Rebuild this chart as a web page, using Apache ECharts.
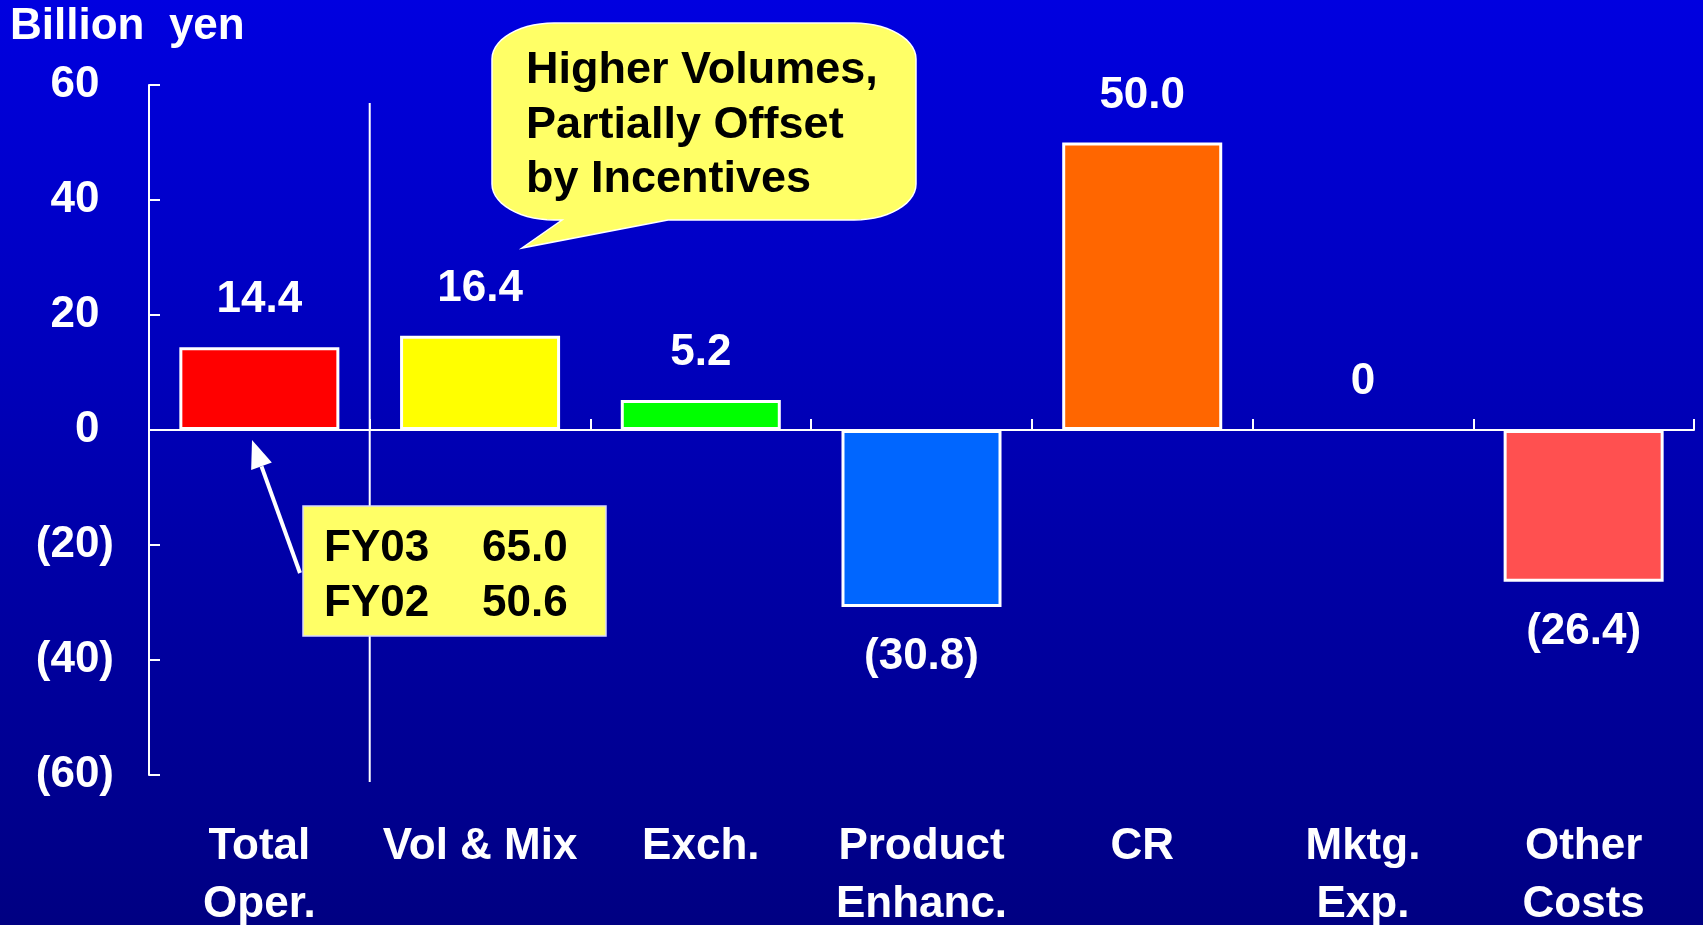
<!DOCTYPE html>
<html>
<head>
<meta charset="utf-8">
<script src="https://cdn.jsdelivr.net/npm/echarts@6/dist/echarts.min.js"></script>
<style>
  html, body { margin: 0; padding: 0; background: #0000a8; }
  #chart { width: 1703px; height: 925px; }
</style>
</head>
<body>
<div id="chart"></div>
<script>
// Operating income change factors (billion yen)
const categories = ['Total\nOper.', 'Vol & Mix', 'Exch.', 'Product\nEnhanc.', 'CR', 'Mktg.\nExp.', 'Other\nCosts'];
const values = [14.4, 16.4, 5.2, -30.8, 50.0, 0, -26.4];
const barColors = ['#FF0000', '#FFFF00', '#00FF00', '#0066FF', '#FF6600', 'rgba(0,0,0,0)', '#FF5050'];
const yMin = -60, yMax = 60, yStep = 20;
const unitLabel = 'Billion  yen';
const calloutLines = ['Higher Volumes,', 'Partially Offset', 'by Incentives'];
const fyRows = [['FY03', '65.0'], ['FY02', '50.6']];

const FONT = '"Liberation Sans", Arial, Helvetica, sans-serif';
const chart = echarts.init(document.getElementById('chart'), null, { renderer: 'canvas' });

function barLabel(v) {
  if (v === 0) return '0';
  return v < 0 ? '(' + (-v).toFixed(1) + ')' : v.toFixed(1);
}
function tickLabel(v) {
  return v < 0 ? '(' + (-v) + ')' : v + '{h|)}';
}

const option = {
  backgroundColor: {
    type: 'linear', x: 0, y: 0, x2: 0, y2: 1,
    colorStops: [{ offset: 0, color: '#0000E0' }, { offset: 1, color: '#000082' }]
  },
  animation: false,
  grid: { left: 149, right: 9, top: 85, bottom: 150, containLabel: false, outerBoundsMode: 'none' },
  xAxis: [
    {
      // category names along the bottom
      type: 'category', data: categories, position: 'bottom',
      axisLine: { show: false, onZero: false },
      axisTick: { show: false },
      axisLabel: {
        color: '#fff', fontFamily: FONT, fontWeight: 'bold', fontSize: 44,
        lineHeight: 58, margin: 43, interval: 0
      }
    },
    {
      // zero line with boundary ticks
      type: 'category', data: categories, position: 'bottom',
      axisLine: { show: true, onZero: true, lineStyle: { color: '#fff', width: 2 } },
      axisTick: { show: true, inside: true, length: 11, lineStyle: { color: '#fff', width: 2 } },
      axisLabel: { show: false }
    }
  ],
  yAxis: {
    type: 'value', min: yMin, max: yMax, interval: yStep,
    splitLine: { show: false },
    axisLine: { show: true, lineStyle: { color: '#fff', width: 2 } },
    axisTick: { show: true, inside: true, length: 11, lineStyle: { color: '#fff', width: 2 } },
    axisLabel: {
      color: '#fff', fontFamily: FONT, fontWeight: 'bold', fontSize: 44, margin: 35,
      formatter: tickLabel,
      rich: { h: { color: 'rgba(0,0,0,0)', fontFamily: FONT, fontWeight: 'bold', fontSize: 44 } }
    }
  },
  series: [{
    type: 'bar',
    xAxisIndex: 0,
    barWidth: '72.5%',
    data: values.map((v, i) => ({
      value: v,
      itemStyle: {
        color: barColors[i],
        borderColor: v === 0 ? 'rgba(0,0,0,0)' : '#FFFFFF',
        borderWidth: 3
      },
      label: { position: v < 0 ? 'bottom' : 'top', distance: v < 0 ? 28 : 25 }
    })),
    label: {
      show: true, color: '#fff', fontFamily: FONT, fontWeight: 'bold', fontSize: 44,
      formatter: p => barLabel(p.value)
    }
  }]
};
chart.setOption(option);

// Decorations: unit caption, separator, speech bubble and FY callout
const c0 = chart.convertToPixel({ xAxisIndex: 0 }, categories[0]);
const c1 = chart.convertToPixel({ xAxisIndex: 0 }, categories[1]);
const sepX = (c0 + c1) / 2;

// speech bubble outline: rounded box with elliptical corners and a tail
const L = 492, R = 916, T = 23, B = 220, rx = 62, ry = 36;
const tailA = 562, tailB = 668, tipX = 522, tipY = 248;
function corner(cx, cy, a0, a1, pts) {
  const n = 14;
  for (let k = 0; k <= n; k++) {
    const a = a0 + (a1 - a0) * k / n;
    pts.push([cx + rx * Math.cos(a), cy + ry * Math.sin(a)]);
  }
}
const bubblePts = [];
corner(R - rx, T + ry, -Math.PI / 2, 0, bubblePts);          // top-right
corner(R - rx, B - ry, 0, Math.PI / 2, bubblePts);           // bottom-right
bubblePts.push([tailB, B], [tipX, tipY], [tailA, B]);        // tail
corner(L + rx, B - ry, Math.PI / 2, Math.PI, bubblePts);     // bottom-left
corner(L + rx, T + ry, Math.PI, Math.PI * 1.5, bubblePts);   // top-left

// arrow from FY box toward the first bar
const ax0 = 300, ay0 = 573, ax1 = 252, ay1 = 440, headLen = 28, headHalf = 11;
const len = Math.hypot(ax1 - ax0, ay1 - ay0);
const ux = (ax1 - ax0) / len, uy = (ay1 - ay0) / len;
const bx = ax1 - headLen * ux, by = ay1 - headLen * uy;
const px = -uy, py = ux;

const textEl = (txt, x, y, color, size) => ({
  type: 'text', x: x, y: y, z: 30, silent: true,
  style: { text: txt, fill: color, font: 'bold ' + size + 'px ' + FONT, verticalAlign: 'middle' }
});

const graphics = [
  textEl(unitLabel, 10, 27, '#fff', 44),
  {
    type: 'line', z: 1, silent: true,
    shape: { x1: sepX, y1: 103, x2: sepX, y2: 782 },
    style: { stroke: '#fff', lineWidth: 2 }
  },
  {
    type: 'polygon', z: 20, silent: true,
    shape: { points: bubblePts },
    style: { fill: '#FFFF66', stroke: '#FFFFFF', lineWidth: 1.5 }
  },
  ...calloutLines.map((t, i) => textEl(t, 526, 71 + i * 54.5, '#000', 45)),
  {
    type: 'rect', z: 20, silent: true,
    shape: { x: 303, y: 506, width: 303, height: 130 },
    style: { fill: '#FFFF66', stroke: '#D8D8FF', lineWidth: 1.5 }
  },
  ...fyRows.flatMap((r, i) => [
    textEl(r[0], 324, 549 + i * 54.5, '#000', 44),
    textEl(r[1], 482, 549 + i * 54.5, '#000', 44)
  ]),
  {
    type: 'line', z: 25, silent: true,
    shape: { x1: ax0, y1: ay0, x2: bx, y2: by },
    style: { stroke: '#fff', lineWidth: 4 }
  },
  {
    type: 'polygon', z: 25, silent: true,
    shape: { points: [[ax1, ay1], [bx + headHalf * px, by + headHalf * py], [bx - headHalf * px, by - headHalf * py]] },
    style: { fill: '#fff' }
  }
];
chart.setOption({ graphic: graphics });
</script>
</body>
</html>
